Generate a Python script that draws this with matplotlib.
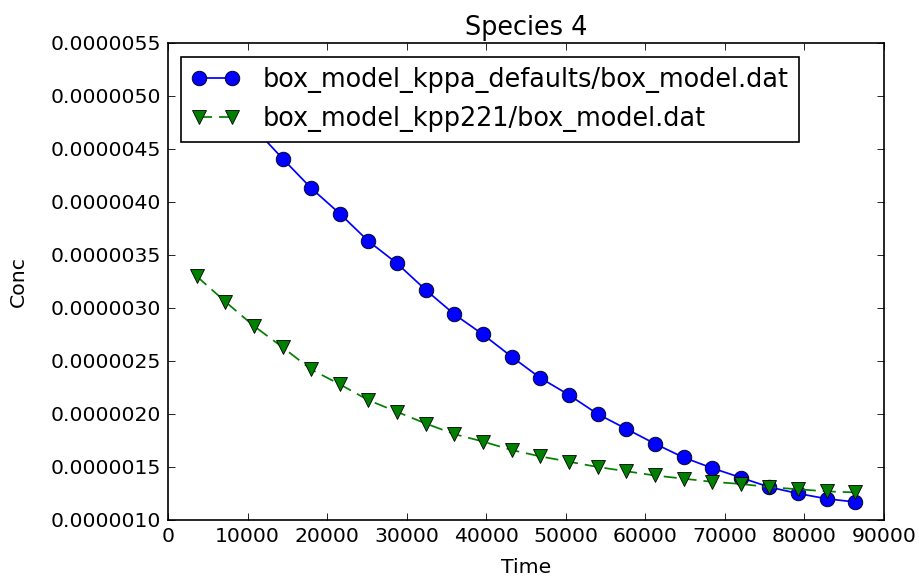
import numpy as np
import matplotlib
matplotlib.use('Agg')
import matplotlib.pyplot as plt
from matplotlib.ticker import FormatStrFormatter

# Time (s), hourly output
time = [3600, 7200, 10800, 14400, 18000, 21600, 25200, 28800, 32400, 36000,
        39600, 43200, 46800, 50400, 54000, 57600, 61200, 64800, 68400, 72000,
        75600, 79200, 82800, 86400]

# Species 4 concentration, in units of 1e-6
kppa_defaults = [5.25, 4.98, 4.70, 4.41, 4.13, 3.89, 3.63, 3.42, 3.17, 2.94,
                 2.75, 2.54, 2.34, 2.18, 2.00, 1.86, 1.72, 1.59, 1.49, 1.40,
                 1.31, 1.25, 1.20, 1.17]
kpp221 = [3.30, 3.06, 2.83, 2.63, 2.42, 2.28, 2.13, 2.02, 1.91, 1.81,
          1.74, 1.66, 1.60, 1.55, 1.50, 1.46, 1.42, 1.39, 1.36, 1.34,
          1.31, 1.29, 1.27, 1.26]

labels = ['box_model_kppa_defaults/box_model.dat', 'box_model_kpp221/box_model.dat']

fs = 14.7   # tick / axis label size
lfs = 18.4  # title / legend size
ms = 10.5
lw = 1.25

fig = plt.figure(figsize=(9.19, 5.84), dpi=100)
ax = fig.add_axes([0.1828, 0.1096, 0.7791, 0.8168])

ax.plot(time, np.array(kppa_defaults) * 1e-6, 'o-', color='b', lw=lw, ms=ms,
        mec='k', mew=0.6, label=labels[0])
ax.plot(time, np.array(kpp221) * 1e-6, 'v--', color='g', lw=lw, ms=ms,
        mec='k', mew=0.6, label=labels[1], dashes=(7.5, 4))

ax.set_xlim(0, 90000)
ax.set_ylim(1.0e-6, 5.5e-6)
ax.set_xticks(np.arange(0, 90001, 10000))
ax.set_yticks(np.arange(1.0e-6, 5.51e-6, 0.5e-6))
ax.yaxis.set_major_formatter(FormatStrFormatter('%.7f'))
ax.tick_params(direction='in', top=True, right=True, length=5, width=0.6,
               labelsize=fs, pad=5, colors='k')
for s in ax.spines.values():
    s.set_linewidth(1.2)

ax.set_xlabel('Time', fontsize=fs, labelpad=9)
ax.set_ylabel('Conc', fontsize=fs, labelpad=16)
ax.set_title('Species 4', fontsize=lfs, pad=6)

leg = ax.legend(loc='upper left', bbox_to_anchor=(0.018, 0.971), borderaxespad=0,
                fontsize=lfs, numpoints=2, fancybox=False, framealpha=1,
                edgecolor='k', handlelength=1.9, handletextpad=0.9)
leg.get_frame().set_linewidth(1.2)

fig.savefig('out.png', dpi=100)
